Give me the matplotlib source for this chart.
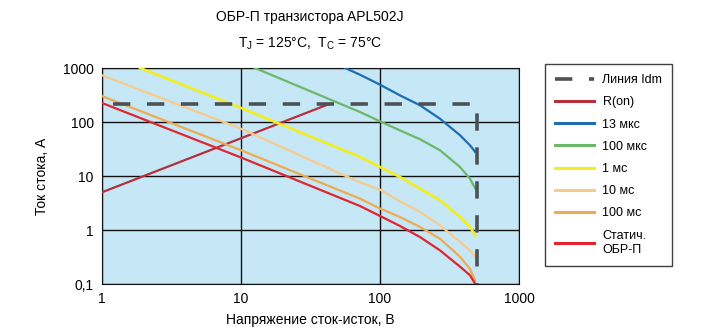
import matplotlib.pyplot as plt
from matplotlib.lines import Line2D

plt.rcParams['font.family'] = ['Liberation Sans', 'DejaVu Sans']

# Idm limit line
idm_v = [1.2, 500, 500]
idm_i = [212, 212, 0.1]

# R(on) limit
ron_v = [1, 42]
ron_i = [5, 210]

# SOA curves, V (volts) / I (amps)
t13us_v = [56, 71.8, 100, 139, 194, 270, 376, 444, 485]
t13us_i = [1000, 751, 491, 312, 204, 115, 57, 37, 27.8]

t100us_v = [12.6, 71.8, 100, 139, 194, 270, 376, 444, 485]
t100us_i = [1000, 153, 103, 70, 48, 30, 14.7, 8.9, 5.8]

t1ms_v = [1.88, 10, 71.8, 100, 139, 194, 270, 376, 444, 485]
t1ms_i = [1000, 182, 22.5, 14.7, 9.6, 5.8, 3.55, 1.74, 1.14, 0.79]

t10ms_v = [1, 10, 71.8, 100, 139, 194, 270, 376, 444, 485]
t10ms_i = [733, 75, 7.6, 5.6, 3.4, 2.15, 1.22, 0.6, 0.42, 0.32]

t100ms_v = [1, 10, 71.8, 100, 139, 194, 270, 376, 444, 485]
t100ms_i = [302, 30, 3.8, 2.5, 1.74, 1.14, 0.69, 0.32, 0.19, 0.115]

dc_v = [1, 10, 71.8, 100, 139, 194, 270, 376, 444, 485]
dc_i = [225, 22, 2.78, 1.82, 1.19, 0.74, 0.42, 0.21, 0.145, 0.1]

x_ticks = [1, 10, 100, 1000]
x_labels = ['1', '10', '100', '1000']
y_ticks = [0.1, 1, 10, 100, 1000]
y_labels = ['0,1', '1', '10', '100', '1000']

fig = plt.figure(figsize=(7.05, 3.31), dpi=100)
ax = fig.add_axes([102 / 705, 47 / 331, 417 / 705, 216 / 331])
ax.set_facecolor('#c6e7f6')
ax.set_xscale('log')
ax.set_yscale('log')
ax.set_xlim(1, 1000)
ax.set_ylim(0.1, 1000)

lw = 1.6
ax.plot(ron_v, ron_i, color='#b52f3c', lw=lw, zorder=3)
ax.plot(t13us_v, t13us_i, color='#1d6db2', lw=lw, zorder=3)
ax.plot(t100us_v, t100us_i, color='#6bb86a', lw=lw, zorder=3)
ax.plot(t1ms_v, t1ms_i, color='#f4ee1c', lw=lw + 0.3, zorder=3)
ax.plot(t10ms_v, t10ms_i, color='#f6cb8e', lw=lw, zorder=3)
ax.plot(t100ms_v, t100ms_i, color='#efab52', lw=lw, zorder=3)
ax.plot(dc_v, dc_i, color='#e0262f', lw=lw, zorder=3)
ax.plot(idm_v, idm_i, color='#4b5257', lw=2.6, dashes=(4.8, 4.6), zorder=4)

ax.set_xticks(x_ticks)
ax.set_xticklabels(x_labels)
ax.set_yticks(y_ticks)
ax.set_yticklabels(y_labels)
ax.minorticks_off()
ax.tick_params(length=0, labelsize=10, pad=6)
ax.grid(True, color='#111111', lw=1)
for s in ax.spines.values():
    s.set_color('#111111')

ax.set_xlabel('Напряжение сток-исток, В', fontsize=10, labelpad=5)
ax.set_ylabel('Ток стока, А', fontsize=10, labelpad=10)

fig.text(310 / 705, 1 - 17 / 331, 'ОБР-П транзистора APL502J',
         ha='center', va='center', fontsize=10)
fig.text(310 / 705, 1 - 44 / 331, r'T$_\mathregular{J}$ = 125°C,  T$_\mathregular{C}$ = 75°C',
         ha='center', va='center', fontsize=10)

handles = [
    Line2D([], [], color='#4b5257', lw=2.6, dashes=(4.8, 4.6)),
    Line2D([], [], color='#b52f3c', lw=2.2),
    Line2D([], [], color='#1d6db2', lw=2.2),
    Line2D([], [], color='#6bb86a', lw=2.2),
    Line2D([], [], color='#f4ee1c', lw=2.2),
    Line2D([], [], color='#f6cb8e', lw=2.2),
    Line2D([], [], color='#efab52', lw=2.2),
    Line2D([], [], color='#e0262f', lw=2.2),
]
labels = ['Линия Idm', 'R(on)', '13 мкс', '100 мкс', '1 мс', '10 мс', '100 мс', 'Статич.\nОБР-П']
leg = fig.legend(handles, labels, loc='upper left',
                 bbox_to_anchor=(545 / 705, 1 - 64 / 331), borderaxespad=0,
                 fontsize=9, handlelength=3.1, handletextpad=0.7,
                 labelspacing=0.82, borderpad=0.8, frameon=True, fancybox=False)
leg.get_frame().set_edgecolor('#111111')
leg.get_frame().set_linewidth(1.0)

fig.savefig('out.png', dpi=100)
